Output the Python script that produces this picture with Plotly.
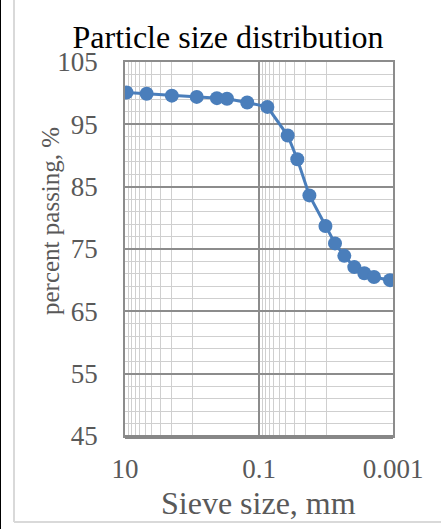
import plotly.graph_objects as go

# Sieve / hydrometer results
sieve_mm = [9.5, 4.75, 2.0, 0.85, 0.425, 0.3, 0.15, 0.075,
            0.0373, 0.0268, 0.0177, 0.0102, 0.00734, 0.00533,
            0.00378, 0.00268, 0.00192, 0.00111]
percent_passing = [100.1, 99.9, 99.6, 99.4, 99.2, 99.1, 98.5, 97.8,
                   93.2, 89.4, 83.6, 78.7, 75.9, 73.9,
                   72.1, 71.1, 70.5, 70.0]

x_tick_vals = [10, 0.1, 0.001]
x_tick_text = ["10", "0.1", "0.001"]
x_minor_vals = [1, 2, 3, 4, 5, 6, 7, 8, 9,
                0.01, 0.02, 0.03, 0.04, 0.05, 0.06, 0.07, 0.08, 0.09]
y_tick_vals = [45, 55, 65, 75, 85, 95, 105]

W, H = 441, 529
PL, PR, PT, PB = 125, 393, 62, 436

def px_x(p):
    return (p - PL) / (PR - PL)

def px_y(p):
    return (PB - p) / (PB - PT)

FONT = "Liberation Serif, Times New Roman, serif"
GREY = "#595959"
BLUE = "#4A7EBB"

fig = go.Figure()
fig.add_trace(go.Scatter(
    x=sieve_mm, y=percent_passing, mode="lines+markers",
    line=dict(color=BLUE, width=3),
    marker=dict(color=BLUE, size=14, symbol="circle"),
    showlegend=False, hoverinfo="skip",
))

fig.update_layout(
    width=W, height=H,
    margin=dict(l=PL, r=W - PR, t=PT, b=H - PB),
    paper_bgcolor="white", plot_bgcolor="white",
    font=dict(family=FONT, color=GREY),
    title=dict(text="Particle size distribution", x=px_x(228), xref="paper",
               xanchor="center", y=1 - 37 / H, yref="container", yanchor="middle",
               font=dict(family=FONT, size=32, color="#000000")),
    showlegend=False,
)

fig.update_xaxes(
    type="log", range=[1, -3],
    tickvals=x_tick_vals, ticktext=x_tick_text,
    tickfont=dict(size=27, color=GREY, family=FONT),
    ticks="", ticklabelstandoff=8,
    showgrid=True, gridcolor="#8c8c8c", gridwidth=1.5,
    minor=dict(tickvals=x_minor_vals, showgrid=True, gridcolor="#cfcfcf", gridwidth=1.3, ticks=""),
    showline=True, linecolor="#8c8c8c", linewidth=1.5, mirror=True,
    zeroline=False,
)
fig.update_yaxes(
    range=[45, 105], tickvals=y_tick_vals,
    tickfont=dict(size=27, color=GREY, family=FONT),
    ticks="", ticklabelstandoff=20,
    showgrid=True, gridcolor="#8c8c8c", gridwidth=1.5,
    minor=dict(tick0=45, dtick=2, showgrid=True, gridcolor="#cfcfcf", gridwidth=1.3, ticks=""),
    showline=True, linecolor="#8c8c8c", linewidth=1.5, mirror=True,
    zeroline=False,
)

# axis titles
fig.add_annotation(text="Sieve size, mm", xref="paper", yref="paper",
                   x=px_x(258), y=px_y(503), showarrow=False,
                   xanchor="center", yanchor="middle",
                   font=dict(family=FONT, size=32, color=GREY))
fig.add_annotation(text="percent passing, %", xref="paper", yref="paper",
                   x=px_x(50), y=px_y(221), showarrow=False, textangle=-90,
                   xanchor="center", yanchor="middle",
                   font=dict(family=FONT, size=25, color=GREY))

# heavier bottom axis line
fig.add_shape(type="line", xref="paper", yref="paper",
              x0=0, x1=1, y0=px_y(PB + 1), y1=px_y(PB + 1),
              line=dict(color="#878787", width=4), layer="above")
# chart frame
fig.add_shape(type="line", xref="paper", yref="paper",
              x0=px_x(14), x1=px_x(14), y0=px_y(-5), y1=px_y(522),
              line=dict(color="#d9d9d9", width=2))
fig.add_shape(type="line", xref="paper", yref="paper",
              x0=px_x(14), x1=px_x(W + 5), y0=px_y(522), y1=px_y(522),
              line=dict(color="#d9d9d9", width=2))
fig.add_shape(type="line", xref="paper", yref="paper",
              x0=px_x(0.5), x1=px_x(0.5), y0=px_y(-5), y1=px_y(H + 5),
              line=dict(color="#000000", width=1))

fig.write_html("out.html")
